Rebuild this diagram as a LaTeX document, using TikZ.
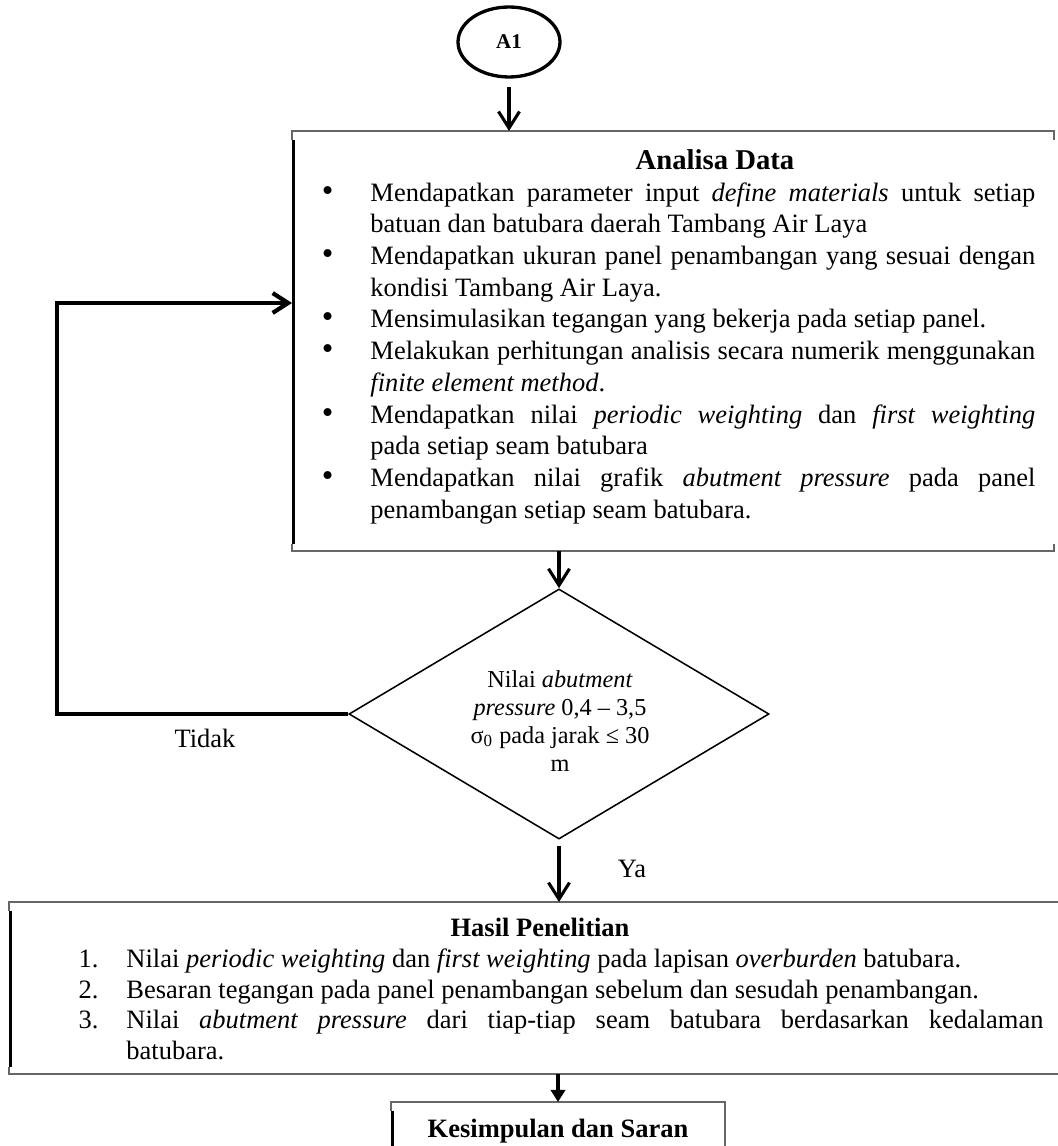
\documentclass[tikz,border=0pt]{standalone}
\usepackage{fontspec}
\setmainfont{Liberation Serif}
\usepackage{enumitem}
\usetikzlibrary{shapes.geometric,arrows.meta,positioning}
\hyphenpenalty=10000
\exhyphenpenalty=10000

\tikzset{
	elips/.style={ellipse,draw,line width=1.5pt,inner sep=0pt,minimum width=46.2pt,minimum height=31.7pt,font=\bfseries\fontsize{9.5}{11}\selectfont},
	kotak/.style={rectangle,inner sep=0pt,outer sep=0pt},
	belah/.style={diamond,draw,line width=0.7pt,inner sep=0pt},
	isi/.style={inner sep=0pt,align=justify},
	judul/.style={anchor=base,font=\bfseries\fontsize{12}{14}\selectfont},
	tepi/.style={draw=black!60,line width=0.5pt},
	batang/.style={line width=1.3pt},
	panah/.style={line width=1.4pt,-{Straight Barb[length=7.5pt,width=9.5pt]}},
	balik/.style={line width=1.9pt,-{Straight Barb[length=7pt,width=9pt]}},
	panahpenuh/.style={line width=1.4pt,-{Triangle[length=5.5pt,width=6.5pt]}}
}

\newcommand{\bingkai}[1]{%
	\draw[tepi] ([yshift=-4.1pt]#1.north west) -- (#1.north west) -- (#1.north east) -- ([yshift=-4.1pt]#1.north east);
	\draw[tepi] ([yshift=3.2pt]#1.south west) -- (#1.south west) -- (#1.south east) -- ([yshift=3.2pt]#1.south east);
	\draw[batang] ([xshift=0.5pt,yshift=-4.1pt]#1.north west) -- ([xshift=0.5pt,yshift=3.2pt]#1.south west);}

\begin{document}
\begin{tikzpicture}[x=0.453pt,y=-0.453pt,font=\fontsize{12}{14}\selectfont]
	\useasboundingbox (0,0) rectangle (1057,1146);
	%Penghubung A1
	\node[elips] (a1) at (509,42) {A1};
	%Kotak analisa data
	\node[kotak,minimum width=345.2pt,minimum height=190.3pt] (analisa) at (673,341) {};
	\bingkai{analisa}
	\node[judul,font=\bfseries\fontsize{13}{15}\selectfont] (judulA) at (715,170) {Analisa Data};
	\node[isi,text width=328.4pt,anchor=north west,font=\fontsize{12}{14.36}\selectfont] (isiA) at (310,169) {%
		\begin{itemize}[label={\fontsize{15}{14}\selectfont\textbullet},leftmargin=27.2pt,labelsep=16.8pt,itemsep=0pt,parsep=0pt,topsep=0pt,partopsep=0pt]
			\item Mendapatkan parameter input \textit{define materials} untuk setiap\linebreak batuan dan batubara daerah Tambang Air Laya
			\item Mendapatkan ukuran panel penambangan yang sesuai dengan\linebreak kondisi Tambang Air Laya.
			\item Mensimulasikan tegangan yang bekerja pada setiap panel.
			\item Melakukan perhitungan analisis secara numerik menggunakan\linebreak \textit{finite element method}.
			\item Mendapatkan nilai \textit{periodic weighting} dan \textit{first weighting}\linebreak pada setiap seam batubara
			\item Mendapatkan nilai grafik \textit{abutment pressure} pada panel\linebreak penambangan setiap seam batubara.
		\end{itemize}};
	%Keputusan
	\node[belah,minimum width=190.3pt,minimum height=113.3pt] (keputusan) at (559,714) {};
	\node[anchor=north,align=center,inner sep=0pt,font=\fontsize{11}{12.7}\selectfont] (syarat) at (560,670) {Nilai \textit{abutment}\\\textit{pressure} 0,4 – 3,5\\σ\textsubscript{0} pada jarak ≤ 30\\m};
	\coordinate (belok) at (57,714);
	\coordinate (masuk) at (292,303);
	\node[anchor=base] (tidak) at (205,747) {Tidak};
	\node[anchor=base west] (ya) at (610,877) {Ya};
	%Kotak hasil penelitian
	\node[kotak,minimum width=481.1pt,minimum height=77.9pt] (hasil) at (540,988) {};
	\bingkai{hasil}
	\node[judul] (judulH) at (540,936) {Hasil Penelitian};
	\node[isi,text width=445.3pt,anchor=north west,font=\fontsize{12}{13.8}\selectfont] (isiH) at (60,937) {%
		\begin{enumerate}[label=\arabic*.,leftmargin=29.9pt,labelsep=12.7pt,itemsep=0pt,parsep=0pt,topsep=0pt,partopsep=0pt]
			\item Nilai \textit{periodic weighting} dan \textit{first weighting} pada lapisan \textit{overburden} batubara.
			\item Besaran tegangan pada panel penambangan sebelum dan sesudah penambangan.
			\item Nilai \textit{abutment pressure} dari tiap-tiap seam batubara berdasarkan kedalaman\linebreak batubara.
		\end{enumerate}};
	%Kotak kesimpulan
	\node[kotak,minimum width=151.3pt,minimum height=39.9pt] (simpulan) at (558,1146) {};
	\bingkai{simpulan}
	\draw[tepi] (simpulan.north east) -- (simpulan.south east);
	\node[judul] (judulS) at (558,1137) {Kesimpulan dan Saran};
	%Panah
	\draw[panah,shorten <=4pt] (a1.south) -- (a1.south |- analisa.north);
	\draw[panah] (analisa.south -| keputusan.north) -- (keputusan.north);
	\draw[panah,shorten <=3pt] (keputusan.south) -- (keputusan.south |- hasil.north);
	\draw[panahpenuh] (hasil.south -| simpulan) -- (simpulan.north);
	\draw[balik] (keputusan.west) -- (belok) |- (masuk);
\end{tikzpicture}
\end{document}
